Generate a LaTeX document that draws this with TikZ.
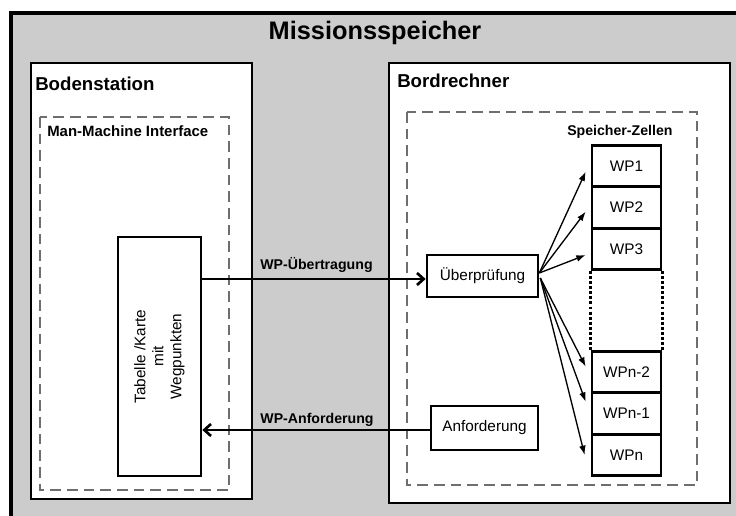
\documentclass[tikz,border=0pt]{standalone}
\usepackage{fontspec}
\setmainfont{Liberation Sans}
\usetikzlibrary{arrows.meta,calc}
\definecolor{framegray}{RGB}{204,204,204}
\definecolor{dashgray}{RGB}{110,110,110}
\begin{document}
\begin{tikzpicture}[x=0.75pt,y=-0.75pt,
  frame/.style={draw=black,line width=2pt,fill=white},
  boxnode/.style={draw=black,line width=2pt,fill=white,inner sep=0pt,font=\fontsize{11.5pt}{13.5pt}\selectfont},
  dashbox/.style={draw=dashgray,line width=2pt,dash pattern=on 8pt off 4.5pt},
  heading/.style={font=\bfseries\fontsize{14pt}{16pt}\selectfont,anchor=base west,inner sep=0pt},
  subhead/.style={font=\bfseries\fontsize{11.2pt}{13pt}\selectfont,anchor=base west,inner sep=0pt},
  flowlabel/.style={font=\bfseries\fontsize{10.6pt}{12pt}\selectfont,anchor=base,inner sep=0pt},
  mainarrow/.style={line width=2pt,-{Straight Barb[length=5pt,width=9pt,line width=2pt]}},
  fanarrow/.style={line width=1pt,-{Latex[length=7pt,width=5pt]}}
]
\useasboundingbox (0,0) rectangle (736,516);
\clip (0,0) rectangle (736,516);
\fill[white] (0,0) rectangle (736,516);
% outer frame
\draw[line width=2.4pt,fill=framegray] (11,13) rectangle (760,540);
\node[font=\bfseries\fontsize{19pt}{22pt}\selectfont] (title) at (375,33) {Missionsspeicher};
% Bodenstation
\draw[frame] (31,63) rectangle (252,499);
\node[heading] (boden) at (35,91) {Bodenstation};
\draw[dashbox] (40,117) rectangle (229,490);
\node[subhead] (mmi) at (47,136.5) {Man-Machine Interface};
% Bordrechner
\draw[frame] (389,63) rectangle (730,503);
\node[heading] (bord) at (397,87.5) {Bordrechner};
\draw[dashbox] (407,112) rectangle (697,485);
\node[subhead,font=\bfseries\fontsize{10.6pt}{12pt}\selectfont] (sz) at (567,136) {Speicher-Zellen};
% Tabelle
\node[boxnode,minimum width=83*0.75pt,minimum height=239*0.75pt] (tab) at (159.5,356.5) {};
\node[rotate=90,align=center,font=\fontsize{11.5pt}{13.5pt}\selectfont] (tabtext) at (tab.center) {Tabelle /Karte\\mit\\Wegpunkten};
% Ueberpruefung, Anforderung
\node[boxnode,minimum width=111*0.75pt,minimum height=42*0.75pt] (ueb) at (482.5,276) {Überprüfung};
\node[boxnode,minimum width=107*0.75pt,minimum height=44*0.75pt] (anf) at (484.5,428) {Anforderung};
% WP cells
\tikzset{wpcell/.style={boxnode,minimum width=69*0.75pt,minimum height=41.5*0.75pt}}
\node[wpcell] (wp1) at (626.5,166) {WP1};
\node[wpcell] (wp2) at (626.5,207.5) {WP2};
\node[wpcell] (wp3) at (626.5,249) {WP3};
\node[wpcell] (wpn2) at (626.5,372) {WPn-2};
\node[wpcell] (wpn1) at (626.5,413.5) {WPn-1};
\node[wpcell] (wpn) at (626.5,455) {WPn};
\draw[line width=2pt,dash pattern=on 2.2pt off 1.6pt] (wp3.south west) -- (wpn2.north west);
\draw[line width=2pt,dash pattern=on 2.2pt off 1.6pt] (wp3.south east) -- (wpn2.north east);
% main flows
\draw[mainarrow] (tab.east |- 0,279) -- (ueb.west |- 0,279);
\node[flowlabel] (l1) at (316.5,270) {WP-Übertragung};
\draw[mainarrow] (anf.west |- 0,430) -- (tab.east |- 0,430);
\node[flowlabel] (l2) at (317,424) {WP-Anforderung};
% fan arrows
\coordinate (fa) at ($(ueb.east)+(0,-3)$);
\coordinate (fb) at ($(ueb.east)+(1,2)$);
\draw[fanarrow] (fa) -- ($(wp1.west)+(-5,5.7)$);
\draw[fanarrow] (fa) -- ($(wp2.west)+(-5,4.2)$);
\draw[fanarrow] (fa) -- ($(wp3.west)+(-5,6)$);
\draw[fanarrow] (fb) -- ($(wpn2.west)+(-5,-5.3)$);
\draw[fanarrow] (fb) -- ($(wpn1.west)+(-5,-11.8)$);
\draw[fanarrow] (fb) -- ($(wpn.west)+(-6,0)$);
\end{tikzpicture}
\end{document}
